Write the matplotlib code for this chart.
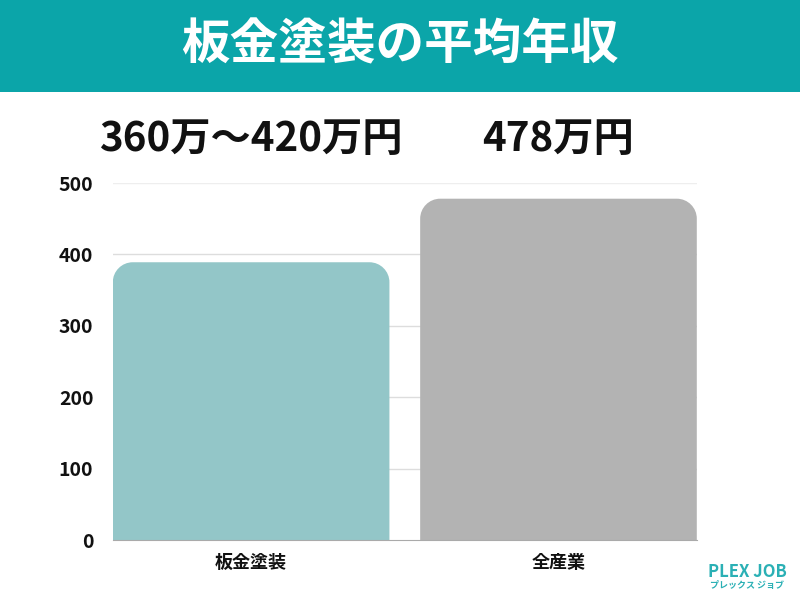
import matplotlib.pyplot as plt
from matplotlib.patches import PathPatch, Rectangle
from matplotlib.path import Path

plt.rcParams['font.family'] = ['Noto Sans CJK JP', 'DejaVu Sans']

categories = ["板金塗装", "全産業"]
values = [389, 478]
value_labels = ["360万〜420万円", "478万円"]
colors = ["#93c6c8", "#b3b3b3"]
yticks = [0, 100, 200, 300, 400, 500]
title = "板金塗装の平均年収"

fig = plt.figure(figsize=(8, 6), dpi=100)
fig.patch.set_facecolor("white")

# teal title banner
fig.patches.append(Rectangle((0, 0.847), 1, 0.153, transform=fig.transFigure,
                             facecolor="#0ba5a9", edgecolor="none", zorder=0))
fig.text(0.5, 0.925, title, color="white", fontsize=35, fontweight="bold",
         ha="center", va="center")

ax = fig.add_axes([0.141, 0.1, 0.73, 0.595])
ax.set_xlim(-0.45, 1.45)
ax.set_ylim(0, 500)

bars = ax.bar(range(len(categories)), values, width=0.9, color=colors)

# rounded top corners: swap the plain bars for a path with arcs on top
fig.canvas.draw()
px_x = ax.transData.transform((1, 0))[0] - ax.transData.transform((0, 0))[0]
px_y = ax.transData.transform((0, 1))[1] - ax.transData.transform((0, 0))[1]
r_px = 20
rx = r_px / px_x
ry = r_px / px_y
k = 0.5523
for b, c in zip(bars, colors):
    x0, y0, w, h = b.get_x(), b.get_y(), b.get_width(), b.get_height()
    x1, y1 = x0 + w, y0 + h
    b.set_visible(False)
    verts = [(x0, y0), (x0, y1 - ry),
             (x0, y1 - ry + k * ry), (x0 + rx - k * rx, y1), (x0 + rx, y1),
             (x1 - rx, y1),
             (x1 - rx + k * rx, y1), (x1, y1 - ry + k * ry), (x1, y1 - ry),
             (x1, y0), (x0, y0)]
    codes = [Path.MOVETO, Path.LINETO,
             Path.CURVE4, Path.CURVE4, Path.CURVE4,
             Path.LINETO,
             Path.CURVE4, Path.CURVE4, Path.CURVE4,
             Path.LINETO, Path.CLOSEPOLY]
    ax.add_patch(PathPatch(Path(verts, codes), facecolor=c, edgecolor="none", zorder=2))

for i, lab in enumerate(value_labels):
    ax.text(i, 561, lab, ha="center", va="center", fontsize=29,
            fontweight="bold", color="#111111", clip_on=False)

ax.set_yticks(yticks)
ax.set_yticklabels([str(t) for t in yticks], fontsize=14, fontweight="bold", color="#111111")
ax.set_xticks(range(len(categories)))
ax.set_xticklabels(categories, fontsize=13, fontweight="bold", color="#111111")
ax.tick_params(axis="y", length=0, pad=14)
ax.tick_params(axis="x", length=0, pad=9)

for t in yticks[1:-1]:
    ax.axhline(t, color="#dddddd", linewidth=1, zorder=1)
ax.axhline(500, color="#eeeeee", linewidth=1, zorder=1)

for s in ["top", "right", "left"]:
    ax.spines[s].set_visible(False)
ax.spines["bottom"].set_color("#aaaaaa")
ax.spines["bottom"].set_zorder(3)

# logo
fig.text(0.934, 0.047, "PLEX JOB", color="#2bb0b5", fontsize=12, fontweight="bold",
         ha="center", va="center")
fig.text(0.934, 0.024, "プレックス ジョブ", color="#2bb0b5", fontsize=6.5, fontweight="bold",
         ha="center", va="center")

fig.savefig("out.png", dpi=100)
